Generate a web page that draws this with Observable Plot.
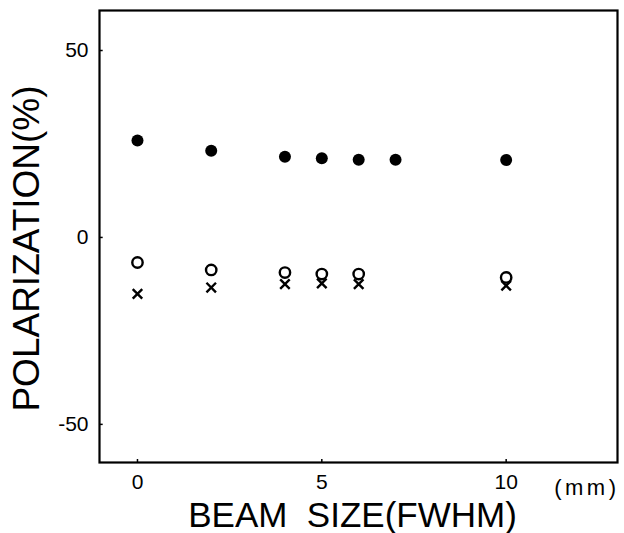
<!DOCTYPE html>
<html>
<head>
<meta charset="utf-8">
<script src="https://cdn.jsdelivr.net/npm/d3@7"></script>
<script src="https://cdn.jsdelivr.net/npm/@observablehq/plot@0.6"></script>
<style>
  html, body { margin: 0; padding: 0; background: #fff; }
  svg { display: block; }
</style>
</head>
<body>
<div id="chart"></div>
<script>
const beamSize = [0, 2, 4, 5, 6, 7, 10];
const filledValues = [25.9, 23.2, 21.6, 21.2, 20.8, 20.8, 20.7];
const openX = [0, 2, 4, 5, 6, 10];
const openValues = [-6.7, -8.7, -9.4, -9.8, -9.8, -10.7];
const crossX = [0, 2, 4, 5, 6, 10];
const crossValues = [-15.1, -13.4, -12.5, -12.3, -12.5, -12.9];
const xTicks = [0, 5, 10];
const yTicks = [-50, 0, 50];
const xUnit = "(mm)";
const xTitle = "BEAM\u00a0 SIZE(FWHM)";
const yTitle = "POLARIZATION(%)";

const filled = beamSize.map((x, i) => ({x, y: filledValues[i]}));
const open = openX.map((x, i) => ({x, y: openValues[i]}));
const cross = crossX.map((x, i) => ({x, y: crossValues[i]}));

const font = "'Liberation Sans', Arial, sans-serif";

const chart = Plot.plot({
  width: 624,
  height: 533,
  marginLeft: 99,
  marginTop: 10,
  marginRight: 7,
  marginBottom: 71,
  style: {fontFamily: font, color: "#000", background: "#fff"},
  x: {domain: [-1.03, 13.02]},
  y: {domain: [-60.2, 60.7]},
  marks: [
    Plot.frame({stroke: "#000", strokeWidth: 2.2}),
    Plot.axisX({ticks: xTicks, tickSize: 0, tickPadding: 12, fontSize: 21, label: null, tickFormat: d => String(d)}),
    Plot.axisY({ticks: yTicks, tickSize: 0, tickPadding: 11, fontSize: 21, label: null, tickFormat: d => String(d)}),
    Plot.ruleX(xTicks, {x: d => d, y1: -60.2, y2: -59.4, stroke: "#000", strokeWidth: 1.5}),
    Plot.ruleY(yTicks, {y: d => d, x1: -1.03, x2: -0.93, stroke: "#000", strokeWidth: 1.5}),
    Plot.dot(filled, {x: "x", y: "y", r: 6, fill: "#000", stroke: "none"}),
    Plot.dot(open, {x: "x", y: "y", r: 5.2, fill: "#fff", stroke: "#000", strokeWidth: 2.4}),
    Plot.dot(cross, {x: "x", y: "y", r: 4.4, symbol: "times", stroke: "#000", strokeWidth: 2.4}),
    Plot.text([xUnit], {frameAnchor: "bottom-right", dx: 2, dy: 25, textAnchor: "end", lineAnchor: "middle", fontSize: 22, fill: "#000", text: d => d, className: "unit-label"}),
    Plot.text([xTitle], {frameAnchor: "bottom", dx: -6, dy: 53, textAnchor: "middle", lineAnchor: "middle", fontSize: 35, fill: "#000", text: d => d}),
    Plot.text([yTitle], {frameAnchor: "left", dx: -72, dy: 12, rotate: -90, textAnchor: "middle", lineAnchor: "middle", fontSize: 37, fill: "#000", text: d => d})
  ]
});

d3.select(chart).selectAll(".unit-label text").style("letter-spacing", "3.5px");

document.getElementById("chart").appendChild(chart);
</script>
</body>
</html>
